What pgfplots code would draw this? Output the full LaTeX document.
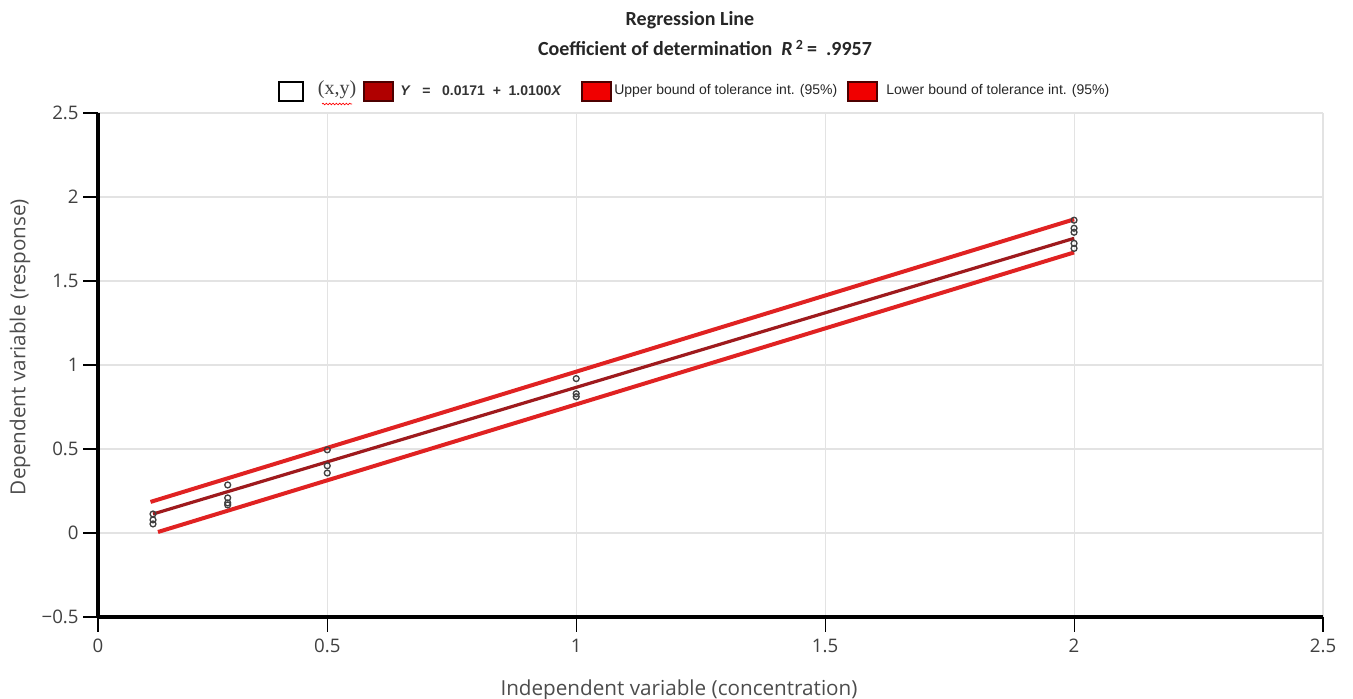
\documentclass[border=0pt]{standalone}
\usepackage{pgfplots}
\pgfplotsset{compat=1.18}
\usepackage{fontspec}
\setmainfont{Open Sans}
\newfontfamily\titlefont{Carlito}
\newfontfamily\legfont{Liberation Sans}
\newfontfamily\serffont{Liberation Serif}
\usetikzlibrary{decorations.pathmorphing}
\definecolor{bandred}{HTML}{E02222}
\definecolor{linered}{HTML}{9E1A1D}
\definecolor{gridgray}{HTML}{E3E3E3}
\definecolor{boxdark}{HTML}{B00000}
\definecolor{boxred}{HTML}{F00000}
\newcommand{\pxc}[2]{({((#1)-98)*0.75pt},{(617-(#2))*0.75pt})}

\begin{document}
\begin{tikzpicture}
\useasboundingbox \pxc{0}{699} rectangle \pxc{1353}{0};
\begin{axis}[at={(0,0)}, anchor=south west, scale only axis,
  width=918.75pt, height=378pt,
  xmin=0.0395, xmax=2.5, ymin=-0.5, ymax=2.5,
  axis lines=left, axis line style={-, line width=3pt, black},
  xtick={0.0395,0.5,1,1.5,2,2.5}, xticklabels={0,0.5,1,1.5,2,2.5},
  ytick={-0.5,0,0.5,1,1.5,2,2.5}, yticklabels={−0.5,0,0.5,1,1.5,2,2.5},
  grid=major, major grid style={gridgray, line width=0.8pt},
  tick align=outside, major tick length=11pt, tick style={black, line width=0.8pt},
  ticklabel style={font=\fontsize{14}{16}\selectfont, text=black!75},
  xticklabel style={yshift=-2pt},
  /pgf/number format/assume math mode=true,
  clip=false]
\addplot[bandred, line width=3pt] coordinates {(0.145,0.185) (2,1.867)};
\addplot[linered, line width=2.4pt] coordinates {(0.15,0.113) (2,1.754)};
\addplot[bandred, line width=3pt] coordinates {(0.16,0.006) (2,1.670)};
\addplot[only marks, mark=o, mark size=2.2pt, mark options={line width=1pt, draw=black!75}] coordinates {
 (0.15,0.113) (0.15,0.078) (0.15,0.054)
 (0.3,0.286) (0.3,0.209) (0.3,0.179) (0.3,0.167)
 (0.5,0.495) (0.5,0.400) (0.5,0.357)
 (1,0.919) (1,0.829) (1,0.811)
 (2,1.862) (2,1.814) (2,1.790) (2,1.724) (2,1.694)
};
\end{axis}
% title
\node[font=\titlefont\bfseries\fontsize{15}{17}\selectfont, text=black!85] at \pxc{690}{20} {Regression Line};
\node[font=\titlefont\bfseries\fontsize{15}{17}\selectfont, text=black!85] at \pxc{705}{48} {Coefficient of determination \ \textit{R}\,\textsuperscript{2}\,=\ \ .9957};
% legend
\draw[black, line width=0.9pt, fill=white] \pxc{279}{82} rectangle \pxc{303}{101};
\node[font=\serffont\fontsize{15}{17}\selectfont, text=black!75] at \pxc{337}{90} {(x,y)};
\draw[red, line width=0.5pt, decorate, decoration={snake, amplitude=0.6pt, segment length=2.5pt}] \pxc{322}{104} -- \pxc{352}{104};
\draw[black!70!red, line width=0.8pt, fill=boxdark] \pxc{364}{82} rectangle \pxc{393}{101};
\node[anchor=west, inner sep=0pt, font=\legfont\bfseries\fontsize{10.5}{12}\selectfont, text=black!80] at \pxc{400}{91} {\textit{Y}\ \ \ =\ \ \ 0.0171\ \ +\ \ 1.0100\textit{X}};
\draw[black!70!red, line width=0.8pt, fill=boxred] \pxc{582}{82} rectangle \pxc{611}{101};
\node[anchor=west, inner sep=0pt, font=\legfont\fontsize{10.5}{12}\selectfont, text=black!85] at \pxc{614}{91} {Upper bound of tolerance int. (95\%)};
\draw[black!70!red, line width=0.8pt, fill=boxred] \pxc{848}{82} rectangle \pxc{877}{101};
\node[anchor=west, inner sep=0pt, font=\legfont\fontsize{10.5}{12}\selectfont, text=black!85] at \pxc{886}{91} {Lower bound of tolerance int. (95\%)};
% axis labels
\node[rotate=90, font=\fontsize{15.5}{17}\selectfont, text=black!70] at \pxc{20}{347} {Dependent variable (response)};
\node[font=\fontsize{15.5}{17}\selectfont, text=black!70] at \pxc{679}{690} {Independent variable (concentration)};
\end{tikzpicture}
\end{document}
